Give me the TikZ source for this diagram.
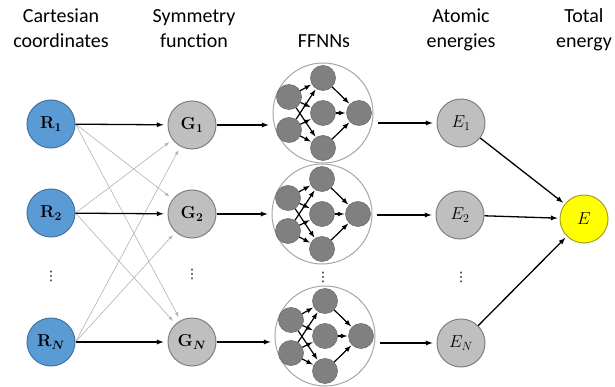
\documentclass[tikz,border=0pt]{standalone}
\usepackage{amsmath}
\usepackage[no-math]{fontspec}
\setmainfont{Carlito}
\newfontfamily\symfont{DejaVu Sans}
\usepackage{tikz}
\usetikzlibrary{positioning, arrows}

\definecolor{atomblue}{HTML}{5B9BD5}
\definecolor{featgray}{HTML}{BFBFBF}
\definecolor{unitgray}{HTML}{808080}
\definecolor{totyellow}{HTML}{FFFF00}

\tikzset{
    >=latex,
    header/.style={align=center, inner sep=0pt, font=\fontsize{20}{25}\selectfont},
    atomnode/.style={circle, minimum size=48pt, inner sep=0pt, line width=1pt,
        draw=atomblue!75!black, fill=atomblue, font=\fontsize{17}{20}\selectfont},
    featnode/.style={atomnode, draw=gray, fill=featgray},
    totalnode/.style={atomnode, draw=olive!80, fill=totyellow},
    netbox/.style={circle, minimum size=100pt, inner sep=0pt, line width=1pt,
        draw=gray!70, fill=white},
    unit/.style={circle, minimum size=25pt, inner sep=0pt, line width=.6pt,
        draw=unitgray!85!black, fill=unitgray},
    link/.style={->, line width=1.3pt, shorten >=4pt},
    cross/.style={->, line width=.6pt, draw=gray!60, shorten >=4pt},
    wire/.style={->, line width=1.2pt, shorten >=1pt},
    vdotnode/.style={inner sep=0pt, font=\symfont\fontsize{13}{15}\selectfont}
}

% one small feed-forward net: #1 name, #2 centre
\newcommand{\ffnn}[2]{%
    \node[netbox] (#1) at #2 {};
    \begin{scope}[shift={#2}]
        \node[unit] (#1i1) at (-34,-16) {};
        \node[unit] (#1i2) at (-34,17) {};
        \foreach \k/\dy in {1/-35,2/0,3/35}
            \node[unit] (#1h\k) at (0,\dy) {};
        \node[unit] (#1o) at (36,0) {};
    \end{scope}
    \foreach \a in {1,2}
        \foreach \b in {1,2,3}
            \draw[wire] (#1i\a) -- (#1h\b);
    \foreach \b in {1,2,3}
        \draw[wire] (#1h\b) -- (#1o);
}

\begin{document}
\begin{tikzpicture}[x=1pt, y=-1pt]
\useasboundingbox (0,0) rectangle (615,387);

% column titles (base = last line)
\node[header, anchor=base] (hcart) at (61,48) {Cartesian\\coordinates};
\node[header, anchor=base] (hsym) at (194,48) {Symmetry\\function};
\node[header, anchor=base] (hnet) at (324,48) {FFNNs};
\node[header, anchor=base] (hatom) at (461,48) {Atomic\\energies};
\node[header, anchor=base] (htot) at (584,48) {Total\\energy};

% coordinates and symmetry functions
\node[atomnode] (R1) at (51,124) {$\mathbf{R}_{\mathbf{1}}$};
\node[atomnode] (R2) at (51,213) {$\mathbf{R}_{\mathbf{2}}$};
\node[atomnode] (RN) at (51,342) {$\mathbf{R}_{\boldsymbol{N}}$};
\node[featnode] (G1) at (192,125) {$\mathbf{G}_{\mathbf{1}}$};
\node[featnode] (G2) at (192,214) {$\mathbf{G}_{\mathbf{2}}$};
\node[featnode] (GN) at (192,342) {$\mathbf{G}_{\boldsymbol{N}}$};

% the networks
\ffnn{F1}{(323,113)}
\ffnn{F2}{(322,214)}
\ffnn{FN}{(325,336)}

% atomic and total energies
\node[featnode] (E1) at (461,123) {$E_1$};
\node[featnode] (E2) at (460,215) {$E_2$};
\node[featnode] (EN) at (461,343) {$E_N$};
\node[totalnode] (Etot) at (584,219) {$E$};

\node[vdotnode] (d1) at (51,276) {⋮};
\node[vdotnode] (d2) at (192,274) {⋮};
\node[vdotnode] (d3) at (323,277) {⋮};
\node[vdotnode] (d4) at (461,277) {⋮};

% every atom feeds every symmetry function
\foreach \a/\b in {1/2,1/N,2/1,2/N,N/1,N/2}
    \draw[cross] (R\a.east) -- (G\b);
\foreach \i in {1,2,N}
    \draw[link] (R\i) -- (G\i);

\foreach \i in {1,2,N} {
    \draw[link] (G\i) -- (G\i -| F\i.west);
    \draw[link, shorten <=4pt] (F\i.east |- E\i) -- (E\i);
    \draw[link, shorten >=2pt] (E\i) -- (Etot);
}

\end{tikzpicture}
\end{document}
